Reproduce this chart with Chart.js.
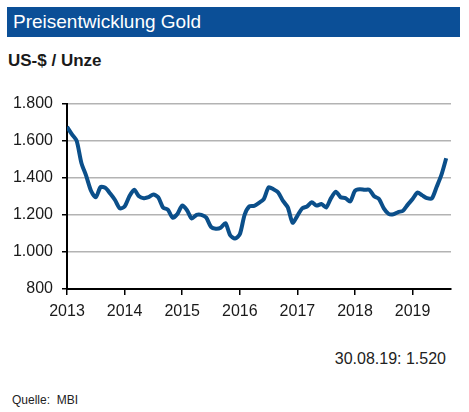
<!DOCTYPE html>
<html lang="de">
<head>
<meta charset="utf-8">
<script src="https://cdn.jsdelivr.net/npm/chart.js@4/dist/chart.umd.min.js"></script>
<style>
  html, body { margin: 0; padding: 0; background: #fff; }
  body { width: 469px; height: 412px; position: relative; overflow: hidden;
         font-family: "Liberation Sans", Arial, sans-serif; color: #1a1a1a; }
  .header { position: absolute; left: 7px; top: 7px; width: 453px; height: 30px;
            background: #0b4f97; color: #fff; font-size: 19px; line-height: 30px;
            padding-left: 6px; box-sizing: border-box; }
  .unit { position: absolute; left: 8px; top: 51px; font-size: 17px; font-weight: bold; }
  .last { position: absolute; right: 23px; top: 350px; font-size: 16px; color: #222; }
  .source { position: absolute; left: 12px; top: 393px; font-size: 12px; color: #222; }
  #chart { position: absolute; left: 0; top: 85px; }
</style>
</head>
<body>
<div class="header">Preisentwicklung Gold</div>
<div class="unit">US-$ / Unze</div>
<canvas id="chart" width="469" height="239"></canvas>
<div class="last">30.08.19: 1.520</div>
<div class="source">Quelle:&nbsp; MBI</div>
<script>
  // monthly gold price, US-$ per ounce (Jan..Dec)
  const gold2013 = [1675, 1635, 1600, 1480, 1410, 1330, 1295, 1350, 1345, 1315, 1280, 1235];
  const gold2014 = [1245, 1300, 1335, 1300, 1290, 1295, 1310, 1295, 1240, 1228, 1185, 1205];
  const gold2015 = [1250, 1225, 1180, 1200, 1200, 1185, 1135, 1125, 1130, 1155, 1090, 1072];
  const gold2016 = [1095, 1200, 1246, 1249, 1265, 1285, 1348, 1338, 1320, 1275, 1240, 1158];
  const gold2017 = [1195, 1235, 1245, 1268, 1250, 1258, 1240, 1290, 1325, 1295, 1290, 1272];
  const gold2018 = [1330, 1338, 1335, 1335, 1300, 1285, 1235, 1205, 1203, 1215, 1222, 1255];
  const gold2019 = [1285, 1320, 1305, 1290, 1288, 1350, 1415, 1505];

  const yearLabels = ["2013", "2014", "2015", "2016", "2017", "2018", "2019"];
  const yTicks = [800, 1000, 1200, 1400, 1600, 1800];

  const allMonths = [].concat(gold2013, gold2014, gold2015, gold2016, gold2017, gold2018, gold2019);
  const points = allMonths.map((v, i) => ({ x: i, y: v }));

  const fmt = (v) => String(v).replace(/\B(?=(\d{3})+(?!\d))/g, ".");
  const tickFont = { family: "Liberation Sans, Arial, sans-serif", size: 16 };

  new Chart(document.getElementById("chart"), {
    type: "line",
    data: {
      datasets: [{
        data: points,
        borderColor: "#0b4f8a",
        borderWidth: 4,
        pointRadius: 0,
        tension: 0.25,
        fill: false,
      }],
    },
    options: {
      responsive: false,
      animation: false,
      layout: { padding: { top: 15, right: 18, left: 0, bottom: 0 } },
      plugins: { legend: { display: false }, tooltip: { enabled: false } },
      scales: {
        x: {
          type: "linear",
          min: 0,
          max: 80,
          afterBuildTicks: (scale) => {
            scale.ticks = yearLabels.map((_, i) => ({ value: i * 12 }));
          },
          afterFit: (scale) => { scale.height = 35; },
          ticks: {
            autoSkip: false,
            maxRotation: 0,
            color: "#1a1a1a",
            font: tickFont,
            padding: 7,
            callback: (v) => yearLabels[Math.round(v / 12)],
          },
          grid: {
            drawOnChartArea: false,
            tickLength: 6,
            tickColor: "#000",
            lineWidth: 1.5,
          },
          border: { color: "#000", width: 2 },
        },
        y: {
          min: 800,
          max: 1800,
          afterBuildTicks: (scale) => {
            scale.ticks = yTicks.map((v) => ({ value: v }));
          },
          afterFit: (scale) => { scale.width = 67; },
          ticks: {
            color: "#1a1a1a",
            font: tickFont,
            padding: 9,
            callback: (v) => fmt(v),
          },
          grid: {
            color: "#b3b3b3",
            lineWidth: 1.5,
            tickLength: 5,
            tickColor: "#000",
          },
          border: { color: "#000", width: 2 },
        },
      },
    },
  });
</script>
</body>
</html>
